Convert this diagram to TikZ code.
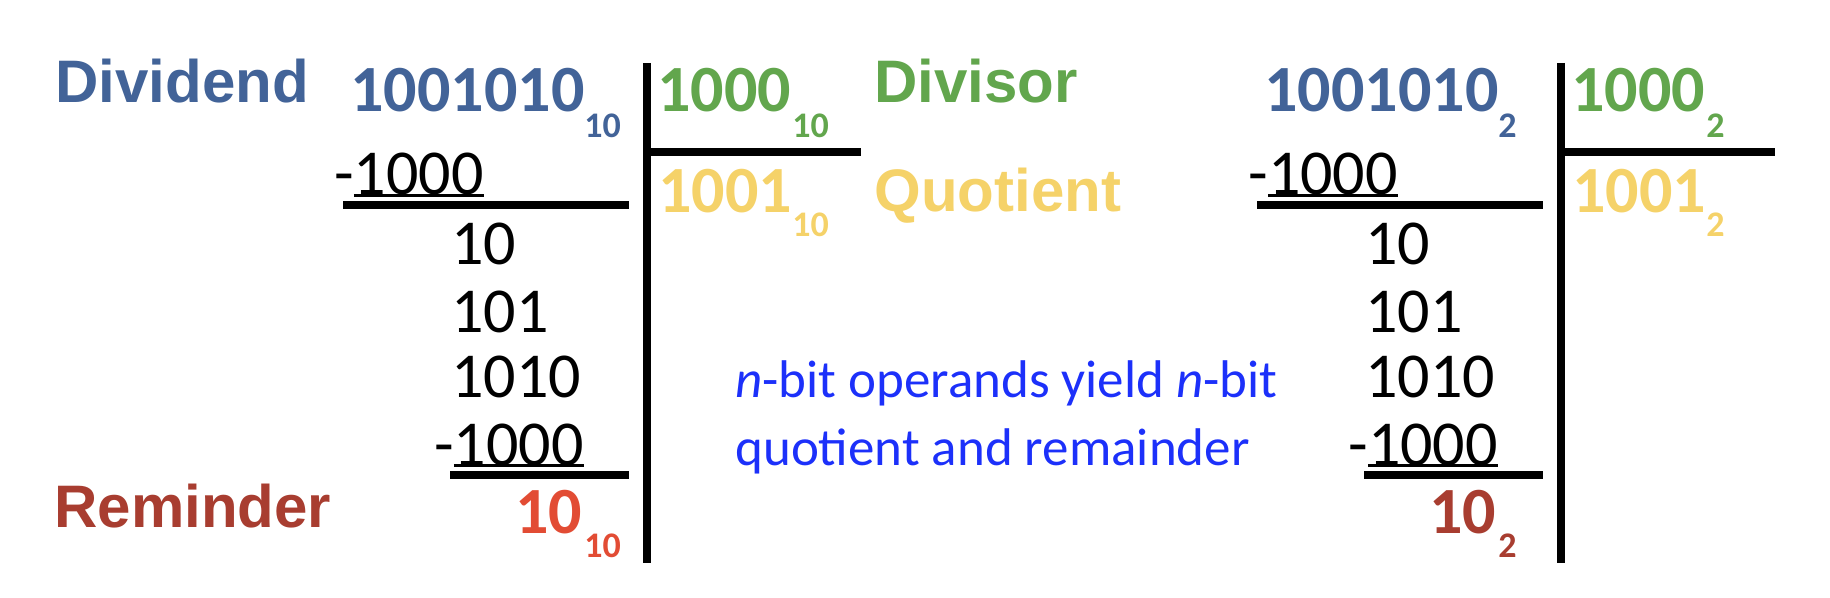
\documentclass[tikz,border=0pt]{standalone}
\usepackage{fontspec}
\setmainfont{Carlito}
\newfontfamily\labelfont{Liberation Sans}

\definecolor{dvdblue}{RGB}{66,99,152}
\definecolor{dvsgreen}{RGB}{98,166,77}
\definecolor{quoyellow}{RGB}{245,210,105}
\definecolor{remdark}{RGB}{168,61,48}
\definecolor{remred}{RGB}{226,76,52}
\definecolor{noteblue}{RGB}{28,48,250}

% underline only the digits after the minus sign
\newcommand\undernum[1]{\setbox0\hbox{#1}\rlap{\rule[-1.2pt]{\wd0}{1.5pt}}\box0}

\tikzset{
    num/.style={anchor=base west, inner sep=0pt, font=\fontsize{32}{38}\selectfont},
    bignum/.style={anchor=base west, inner sep=0pt, font=\fontsize{33}{40}\selectfont\bfseries},
    subnum/.style={anchor=base west, inner sep=0pt, font=\fontsize{18}{22}\selectfont\bfseries},
    tag/.style={anchor=base west, inner sep=0pt, font=\labelfont\bfseries\fontsize{30}{36}\selectfont},
    divrule/.style={line width=3.7pt},
}

\begin{document}
\begin{tikzpicture}[x=0.5pt, y=-0.5pt]
        \useasboundingbox (0,0) rectangle (1830,598);

        % Etiquetas
        \node[tag, dvdblue] (lbl-dvd) at (55,103) {Dividend};
        \node[tag, dvsgreen] (lbl-dvs) at (874,103) {Divisor};
        \node[tag, quoyellow] (lbl-quo) at (874,212) {Quotient};
        \node[tag, remdark] (lbl-rem) at (54,527) {Reminder};

        % base = baseline of the last line
        \node[anchor=base west, inner sep=0pt, align=left, noteblue,
              font=\fontsize{26.5}{33.5}\selectfont] (note) at (735,465)
            {\textit{n}-bit operands yield \textit{n}-bit\\quotient and remainder};

        % Divisiones: base 10 y base 2
        \foreach \side/\dx/\base/\remcol in {dec/0/10/remred, bin/914/2/remdark} {
            \begin{scope}[shift={(\dx,0)}]
                \node[bignum, dvdblue] (dvd-\side) at (350,112) {1001010};
                \node[subnum, dvdblue] (dvdb-\side) at (584,138) {\base};
                \node[bignum, dvsgreen] (dvs-\side) at (657,112) {1000};
                \node[subnum, dvsgreen] (dvsb-\side) at (792,138) {\base};
                \node[bignum, quoyellow] (quo-\side) at (658,213) {1001};
                \node[subnum, quoyellow] (quob-\side) at (792,237) {\base};

                \node[num] (sub1-\side) at (334,195) {-\undernum{1000}};
                \node[num] (row1-\side) at (451,265) {10};
                \node[num] (row2-\side) at (451,333) {101};
                \node[num] (row3-\side) at (451,398) {1010};
                \node[num] (sub2-\side) at (434,465) {-\undernum{1000}};

                \node[bignum, \remcol] (rem-\side) at (515,533) {10};
                \node[subnum, \remcol] (remb-\side) at (584,557) {\base};

                \draw[divrule] (647,63) -- (647,563);
                \draw[divrule] (647,152) -- (861,152);
                \draw[divrule] (343,205) -- (629,205);
                \draw[divrule] (450,475) -- (629,475);
            \end{scope}
        }
    \end{tikzpicture}
\end{document}
